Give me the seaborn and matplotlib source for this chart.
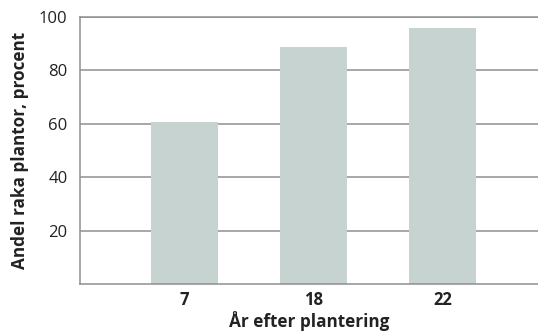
import matplotlib
matplotlib.use("Agg")
import matplotlib.pyplot as plt
import seaborn as sns
import pandas as pd

years = ["7", "18", "22"]
values = [60.5, 88.8, 95.9]
yticks = [20, 40, 60, 80, 100]

sns.set_theme(style="white")
plt.rcParams['font.family'] = ['Open Sans', 'DejaVu Sans']

df = pd.DataFrame({"year": years, "value": values})

fig = plt.figure(figsize=(5.38, 3.34), dpi=100)
ax = fig.add_axes([80/538, 1-284/334, 1-80/538, (284-17)/334])

sns.barplot(data=df, x="year", y="value", color="#c7d3d0", saturation=1,
            width=0.52, ax=ax, zorder=2)
for p in ax.patches:
    p.set_edgecolor("none")

ax.set_xlim(-0.81, 2.74)
ax.set_ylim(0, 100)
ax.set_yticks(yticks)
ax.set_yticklabels([str(t) for t in yticks], fontsize=12, color="#222222")
ax.set_xticks(range(len(years)))
ax.set_xticklabels(years, fontsize=12, fontweight="bold", color="#222222")
ax.tick_params(axis="x", length=0, pad=5)
ax.tick_params(axis="y", length=0, pad=9)
ax.yaxis.grid(True, color="#8f8f8f", linewidth=1.1, zorder=0)
ax.set_axisbelow(True)

for s in ["left", "bottom", "top"]:
    ax.spines[s].set_visible(True)
    ax.spines[s].set_color("#8f8f8f")
    ax.spines[s].set_linewidth(1.1)
ax.spines["right"].set_visible(False)

ax.set_xlabel("År efter plantering", fontsize=12.3, fontweight="bold",
              color="#222222", labelpad=1.5)
ax.set_ylabel("Andel raka plantor, procent", fontsize=12.3, fontweight="bold",
              color="#222222", labelpad=7)

fig.savefig("out.png", dpi=100)
